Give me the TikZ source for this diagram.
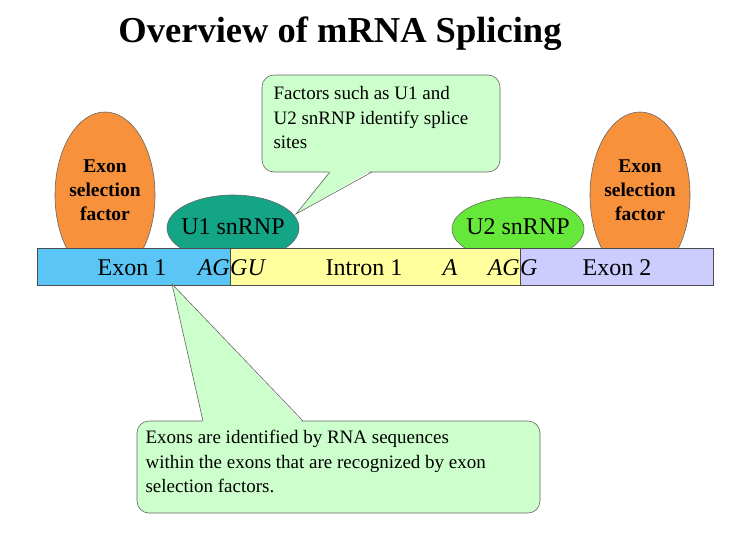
\documentclass[tikz,border=0pt]{standalone}
\usepackage{fontspec}
\setmainfont{Liberation Serif}
\usetikzlibrary{shapes.geometric}
\definecolor{exa}{HTML}{5BC6F5}
\definecolor{intr}{HTML}{FFFF9E}
\definecolor{exb}{HTML}{CCCCFF}
\definecolor{orng}{HTML}{F7913C}
\definecolor{uone}{HTML}{14A586}
\definecolor{utwo}{HTML}{66E83A}
\definecolor{callc}{HTML}{CCFFCC}
\begin{document}
\begin{tikzpicture}[x=1pt,y=-1pt,
  seg/.style={draw=black!70,line width=0.6pt,minimum height=37pt,inner sep=0pt,anchor=north west},
  oval/.style={draw=black!60,line width=0.6pt},
  eftxt/.style={font=\bfseries\fontsize{19.5}{24}\selectfont,align=center},
  call/.style={fill=callc,draw=black!60,line width=0.6pt,rounded corners=12pt},
  btxt/.style={font=\fontsize{24}{24}\selectfont},
  ctxt/.style={font=\fontsize{19}{24.5}\selectfont,align=left,anchor=north west}]
\useasboundingbox (0,0) rectangle (743,557);
\node[font=\bfseries\fontsize{36.5}{36.5}\selectfont] (title) at (340,34) {Overview of mRNA Splicing};
% factors
\draw[oval,fill=orng] (105,195) ellipse [x radius=50, y radius=83];
\draw[oval,fill=orng] (640,195) ellipse [x radius=50, y radius=83];
\draw[oval,fill=uone] (233,228) ellipse [x radius=66, y radius=33];
\draw[oval,fill=utwo] (518,229) ellipse [x radius=66, y radius=32];
\node[eftxt] (ef1) at (105,190) {Exon\\selection\\factor};
\node[eftxt] (ef2) at (640,190) {Exon\\selection\\factor};
\node[btxt] (u1) at (233,227) {U1 snRNP};
\node[btxt] (u2) at (518,227) {U2 snRNP};
% bar
\node[seg,fill=exa,minimum width=193pt] (e1) at (37,248) {};
\node[seg,fill=intr,minimum width=290pt] (in) at (230,248) {};
\node[seg,fill=exb,minimum width=193pt] (e2) at (520,248) {};
\node[btxt] (t1) at (132,268) {Exon 1};
\node[btxt,anchor=east,inner sep=0pt] (ag1) at (230,268) {\itshape AG};
\node[btxt,anchor=west,inner sep=0pt] (gu) at (230,268) {\itshape GU};
\node[btxt] (ti) at (364,268) {Intron 1};
\node[btxt] (ta) at (450,268) {\itshape A};
\node[btxt,anchor=east,inner sep=0pt] (ag2) at (520,268) {\itshape AG};
\node[btxt,anchor=west,inner sep=0pt] (g2) at (520,268) {\itshape G};
\node[btxt] (t2) at (617,268) {Exon 2};
% top callout
\coordinate (tip1) at (296,214);
\draw[call] (262,75) rectangle (500,172);
\fill[callc] (330,170) -- (tip1) -- (372,170) -- cycle;
\draw[black!60,line width=0.6pt] (330,172) -- (tip1) -- (372,172);
\node[ctxt] (c1) at (270,83) {Factors such as U1 and\\U2 snRNP identify splice\\sites};
% bottom callout
\coordinate (tip2) at (172,284);
\draw[call] (137,421) rectangle (540,513);
\fill[callc] (203,423) -- (tip2) -- (303,423) -- cycle;
\draw[black!60,line width=0.6pt] (203,421) -- (tip2) -- (303,421);
\node[ctxt] (c2) at (142,427) {Exons are identified by RNA sequences\\within the exons that are recognized by exon\\selection factors.};
\end{tikzpicture}
\end{document}
